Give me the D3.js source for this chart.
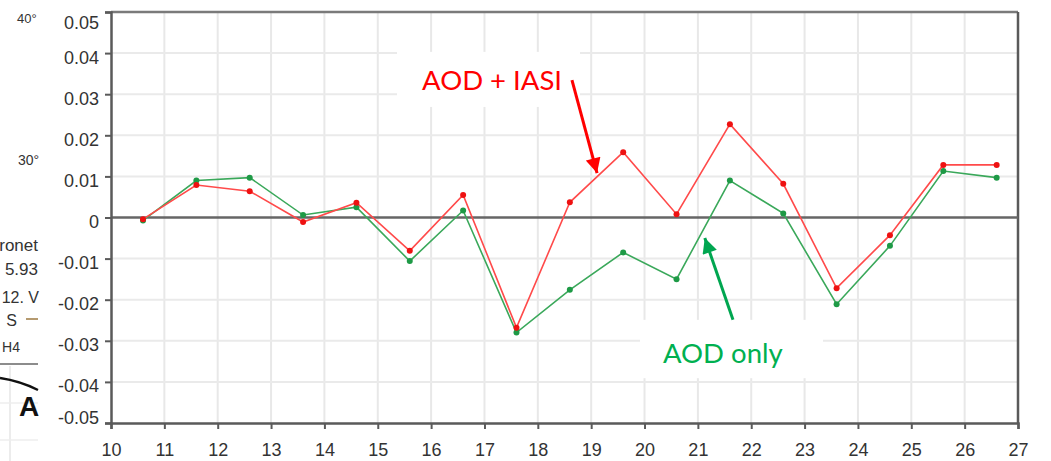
<!DOCTYPE html>
<html>
<head>
<meta charset="utf-8">
<script src="https://cdn.jsdelivr.net/npm/d3@7"></script>
<style>
  html, body { margin: 0; padding: 0; background: #fff; }
  svg { display: block; }
</style>
</head>
<body>
<svg id="chart" width="1051" height="461"></svg>
<script>
// Hours (x positions of the samples)
const hours = [10.6, 11.6, 12.6, 13.6, 14.6, 15.6, 16.6, 17.6, 18.6, 19.6, 20.6, 21.6, 22.6, 23.6, 24.6, 25.6, 26.6];
// Difference series
const aodIasi = [-0.0004, 0.0079, 0.0064, -0.0011, 0.0036, -0.0081, 0.0055, -0.0268, 0.0037, 0.0159, 0.0008, 0.0227, 0.0082, -0.0172, -0.0043, 0.0128, 0.0128];
const aodOnly = [-0.0007, 0.0090, 0.0097, 0.0006, 0.0025, -0.0106, 0.0017, -0.0280, -0.0176, -0.0085, -0.0150, 0.0090, 0.0010, -0.0211, -0.0069, 0.0113, 0.0097];
// Axis ticks
const xTicks = d3.range(10, 28);
const yTicks = [0.05, 0.04, 0.03, 0.02, 0.01, 0, -0.01, -0.02, -0.03, -0.04, -0.05];
const yTickLabels = ["0.05", "0.04", "0.03", "0.02", "0.01", "0", "-0.01", "-0.02", "-0.03", "-0.04", "-0.05"];

const svg = d3.select("#chart");
const x = d3.scaleLinear().domain([10, 27]).range([111, 1018]);
const y = d3.scaleLinear().domain([-0.05, 0.05]).range([423, 12]);

// Pieces of the neighbouring panel along the left margin
const side = svg.append("g")
  .style("font-family", "'Liberation Sans', Arial, sans-serif").attr("fill", "#333");
side.append("line").attr("x1", 10).attr("x2", 10).attr("y1", 366).attr("y2", 461).attr("stroke", "#e6e6e6").attr("stroke-width", 1.5);
side.append("line").attr("x1", 0).attr("x2", 38).attr("y1", 403).attr("y2", 403).attr("stroke", "#eee").attr("stroke-width", 1.5);
side.append("line").attr("x1", 0).attr("x2", 38).attr("y1", 440).attr("y2", 440).attr("stroke", "#eee").attr("stroke-width", 1.5);
side.append("text").attr("x", 38).attr("y", 251).attr("text-anchor", "end").attr("font-size", 17).text("ronet");
side.append("text").attr("x", 38).attr("y", 275).attr("text-anchor", "end").attr("font-size", 17).text("5.93");
side.append("text").attr("x", 39).attr("y", 303).attr("text-anchor", "end").attr("font-size", 16).text("12. V");
side.append("text").attr("x", 17).attr("y", 326).attr("text-anchor", "end").attr("font-size", 16).text("S");
side.append("line").attr("x1", 26).attr("x2", 38).attr("y1", 319).attr("y2", 319).attr("stroke", "#b59a70").attr("stroke-width", 2);
side.append("text").attr("x", 20).attr("y", 352).attr("text-anchor", "end").attr("font-size", 14).text("H4");
side.append("line").attr("x1", 0).attr("x2", 38).attr("y1", 364).attr("y2", 364).attr("stroke", "#666").attr("stroke-width", 1.5);
side.append("path").attr("d", "M0,378 Q20,381 38,390").attr("fill", "none").attr("stroke", "#111").attr("stroke-width", 2.5);
side.append("text").attr("x", 19).attr("y", 416).attr("font-size", 28).attr("font-weight", "bold").attr("fill", "#111").text("A");
side.append("text").attr("x", 17).attr("y", 23).attr("font-size", 13).text("40°");
side.append("text").attr("x", 18).attr("y", 165).attr("font-size", 14).text("30°");

// Grid
const grid = svg.append("g");
grid.selectAll("line.v").data(xTicks.slice(1, -1)).join("line")
  .attr("x1", d => x(d)).attr("x2", d => x(d)).attr("y1", y(0.05)).attr("y2", y(-0.05))
  .attr("stroke", "#e8e8e8").attr("stroke-width", 2);
grid.selectAll("line.h").data(yTicks.filter(d => Math.abs(d) > 1e-9 && Math.abs(d) < 0.049)).join("line")
  .attr("x1", x(10)).attr("x2", x(27)).attr("y1", d => y(d)).attr("y2", d => y(d))
  .attr("stroke", "#eaeaea").attr("stroke-width", 2);

// Annotation backgrounds (cover the grid)
const boxes = [
  { x0: 15.36, x1: 18.79, y0: 0.0403, y1: 0.0269 },
  { x0: 19.915, x1: 23.345, y0: -0.0249, y1: -0.0391 }
];
svg.selectAll("rect.bg").data(boxes).join("rect")
  .attr("x", d => x(d.x0)).attr("y", d => y(d.y0))
  .attr("width", d => x(d.x1) - x(d.x0)).attr("height", d => y(d.y1) - y(d.y0))
  .attr("fill", "#fff");

// Frame and zero line
const frameColor = "#5a5a5a";
svg.append("line").attr("x1", x(10)).attr("x2", x(27)).attr("y1", y(0.05)).attr("y2", y(0.05))
  .attr("stroke", "#7a7a7a").attr("stroke-width", 2.5);
svg.append("line").attr("x1", x(27)).attr("x2", x(27)).attr("y1", y(0.05)).attr("y2", y(-0.05))
  .attr("stroke", frameColor).attr("stroke-width", 2.5);
svg.append("line").attr("x1", x(10)).attr("x2", x(27)).attr("y1", y(0)).attr("y2", y(0))
  .attr("stroke", "#666").attr("stroke-width", 2.5);

// Axes
const fontAxis = "'Liberation Sans', Arial, sans-serif";
const yAxis = svg.append("g").attr("transform", `translate(${x(10)},0)`)
  .call(d3.axisLeft(y).tickValues(yTicks).tickSize(6).tickFormat((d, i) => yTickLabels[i]));
yAxis.select(".domain").attr("stroke", frameColor).attr("stroke-width", 2.5);
yAxis.selectAll(".tick line").attr("stroke", frameColor).attr("stroke-width", 2);
yAxis.selectAll(".tick text")
  .attr("x", -12).attr("dy", null)
  .attr("y", d => Math.min(Math.max(y(d) + 10, 28), 423) - y(d))
  .attr("font-size", 18).attr("fill", "#333").style("font-family", fontAxis);

const xAxis = svg.append("g").attr("transform", `translate(0,${y(-0.05)})`)
  .call(d3.axisBottom(x).tickValues(xTicks).tickSize(6).tickFormat(d3.format("d")));
xAxis.select(".domain").attr("stroke", frameColor).attr("stroke-width", 2.5);
xAxis.selectAll(".tick line").attr("stroke", frameColor).attr("stroke-width", 2);
xAxis.selectAll(".tick text").attr("dy", null).attr("y", 33)
  .attr("font-size", 18).attr("fill", "#333").style("font-family", fontAxis);

// Series
const series = [
  { values: aodOnly, line: "#3aa85a", dot: "#1e9a46" },
  { values: aodIasi, line: "#ff4a4a", dot: "#ee1111" }
];
const lineGen = d3.line().x((d, i) => x(hours[i])).y(d => y(d));
series.forEach(s => {
  svg.append("path").datum(s.values).attr("d", lineGen)
    .attr("fill", "none").attr("stroke", s.line).attr("stroke-width", 1.6);
  svg.append("g").selectAll("circle").data(s.values).join("circle")
    .attr("cx", (d, i) => x(hours[i])).attr("cy", d => y(d)).attr("r", 3)
    .attr("fill", s.dot);
});

// Annotations
const defs = svg.append("defs");
[["redHead", "#ff0000"], ["greenHead", "#00a650"]].forEach(([id, c]) => {
  defs.append("marker").attr("id", id).attr("viewBox", "0 0 10 10").attr("refX", 10).attr("refY", 5)
    .attr("markerUnits", "userSpaceOnUse").attr("markerWidth", 16).attr("markerHeight", 15)
    .attr("orient", "auto")
    .append("path").attr("d", "M0,0 L10,5 L0,10 Z").attr("fill", c);
});
const arrows = [
  { from: [18.64, 0.03345], to: [19.11, 0.0108], color: "#ff0000", head: "redHead" },
  { from: [21.658, -0.0249], to: [21.13, -0.0050], color: "#00a650", head: "greenHead" }
];
svg.selectAll("line.arrow").data(arrows).join("line")
  .attr("x1", d => x(d.from[0])).attr("y1", d => y(d.from[1]))
  .attr("x2", d => x(d.to[0])).attr("y2", d => y(d.to[1]))
  .attr("stroke", d => d.color).attr("stroke-width", 3)
  .attr("marker-end", d => `url(#${d.head})`);

const labels = [
  { text: "AOD + IASI", x: 15.83, y: 0.0310, color: "#ff0000" },
  { text: "AOD only", x: 20.346, y: -0.0354, color: "#00b050" }
];
svg.selectAll("text.note").data(labels).join("text")
  .attr("x", d => x(d.x)).attr("y", d => y(d.y))
  .attr("fill", d => d.color).attr("font-size", 27.5)
  .style("font-family", "Lato, 'Open Sans', sans-serif")
  .text(d => d.text);
</script>
</body>
</html>
